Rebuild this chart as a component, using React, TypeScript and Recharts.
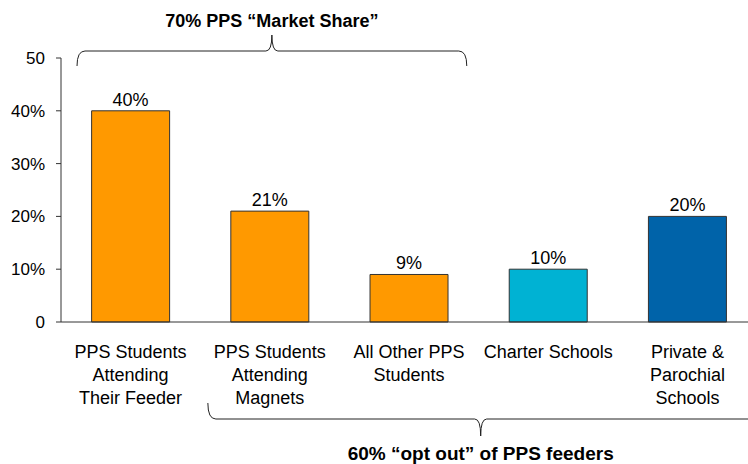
import { Bar, BarChart, Cell, LabelList, XAxis, YAxis } from "recharts";

const categories = [
  "PPS Students\nAttending\nTheir Feeder",
  "PPS Students\nAttending\nMagnets",
  "All Other PPS\nStudents",
  "Charter Schools",
  "Private &\nParochial\nSchools",
];
const shares = [40, 21, 9, 10, 20];
const barColors = ["#FF9900", "#FF9900", "#FF9900", "#00B2D3", "#0063A9"];
const yTicks = [0, 10, 20, 30, 40, 50];

const topNote = "70% PPS \u201cMarket Share\u201d";
const bottomNote = "60% \u201copt out\u201d of PPS feeders";

const data = categories.map((name, i) => ({ name, value: shares[i] }));

// layout
const W = 757;
const H = 464;
const plotLeft = 61;
const plotTop = 58;
const plotBottom = 322;
const band = (W - plotLeft) / categories.length;

const font = "Arial, 'Liberation Sans', sans-serif";

function CatTick(props: any) {
  const { x, y, payload } = props;
  const lines = String(payload.value).split("\n");
  return (
    <text x={x} y={y} textAnchor="middle" fontFamily={font} fontSize={18} fill="#000">
      {lines.map((l, i) => (
        <tspan key={i} x={x} dy={i === 0 ? 36 : 22.8}>
          {l}
        </tspan>
      ))}
    </text>
  );
}

function Brackets() {
  const tL = plotLeft + band * 0.115;
  const tR = plotLeft + band * 2.915;
  const tM = (tL + tR) / 2;
  const tY = 51;
  const bL = plotLeft + band * 1.055;
  const bM = plotLeft + band * 3.015;
  const bY = 419;
  return (
    <svg
      width={748}
      height={464}
      style={{ position: "absolute", left: 0, top: 0, pointerEvents: "none" }}
    >
      <path
        d={`M${tL},66 Q${tL},${tY} ${tL + 8},${tY} L${tM - 6},${tY} Q${tM},${tY} ${tM},35 Q${tM},${tY} ${tM + 6},${tY} L${tR - 8},${tY} Q${tR},${tY} ${tR},66`}
        fill="none"
        stroke="#222"
        strokeWidth={1}
      />
      <text x={tM} y={27} textAnchor="middle" fontFamily={font} fontWeight="bold" fontSize={18} fill="#000">
        {topNote}
      </text>
      <path
        d={`M${bL},403 Q${bL},${bY} ${bL + 8},${bY} L${bM - 6},${bY} Q${bM},${bY} ${bM},436 Q${bM},${bY} ${bM + 6},${bY} L760,${bY}`}
        fill="none"
        stroke="#222"
        strokeWidth={1}
      />
      <text x={bM} y={460} textAnchor="middle" fontFamily={font} fontWeight="bold" fontSize={19} fill="#000">
        {bottomNote}
      </text>
    </svg>
  );
}

export default function App() {
  return (
    <div
      style={{
        position: "fixed",
        left: 0,
        top: 0,
        width: 748,
        height: 464,
        overflow: "hidden",
        background: "#fff",
      }}
    >
      <BarChart
        width={W}
        height={H}
        data={data}
        margin={{ top: plotTop, right: 0, left: 0, bottom: 0 }}
        barCategoryGap="22%"
      >
        <XAxis
          dataKey="name"
          interval={0}
          tickLine={false}
          tickSize={0}
          tickMargin={0}
          height={H - plotBottom}
          axisLine={{ stroke: "#333" }}
          tick={<CatTick />}
        />
        <YAxis
          width={plotLeft}
          domain={[0, 50]}
          ticks={yTicks}
          interval={0}
          tickSize={5}
          tickMargin={11}
          axisLine={{ stroke: "#333" }}
          tickLine={{ stroke: "#333" }}
          tick={{ fill: "#000", fontSize: 17, fontFamily: font }}
          tickFormatter={(v: number) => (v === 0 || v === 50 ? String(v) : `${v}%`)}
        />
        <Bar dataKey="value" stroke="#333" strokeWidth={1} isAnimationActive={false}>
          {data.map((d, i) => (
            <Cell key={d.name} fill={barColors[i]} />
          ))}
          <LabelList
            dataKey="value"
            position="top"
            formatter={(v: any) => `${v}%`}
            style={{ fill: "#000", fontSize: 18, fontFamily: font }}
          />
        </Bar>
      </BarChart>
      <Brackets />
    </div>
  );
}
